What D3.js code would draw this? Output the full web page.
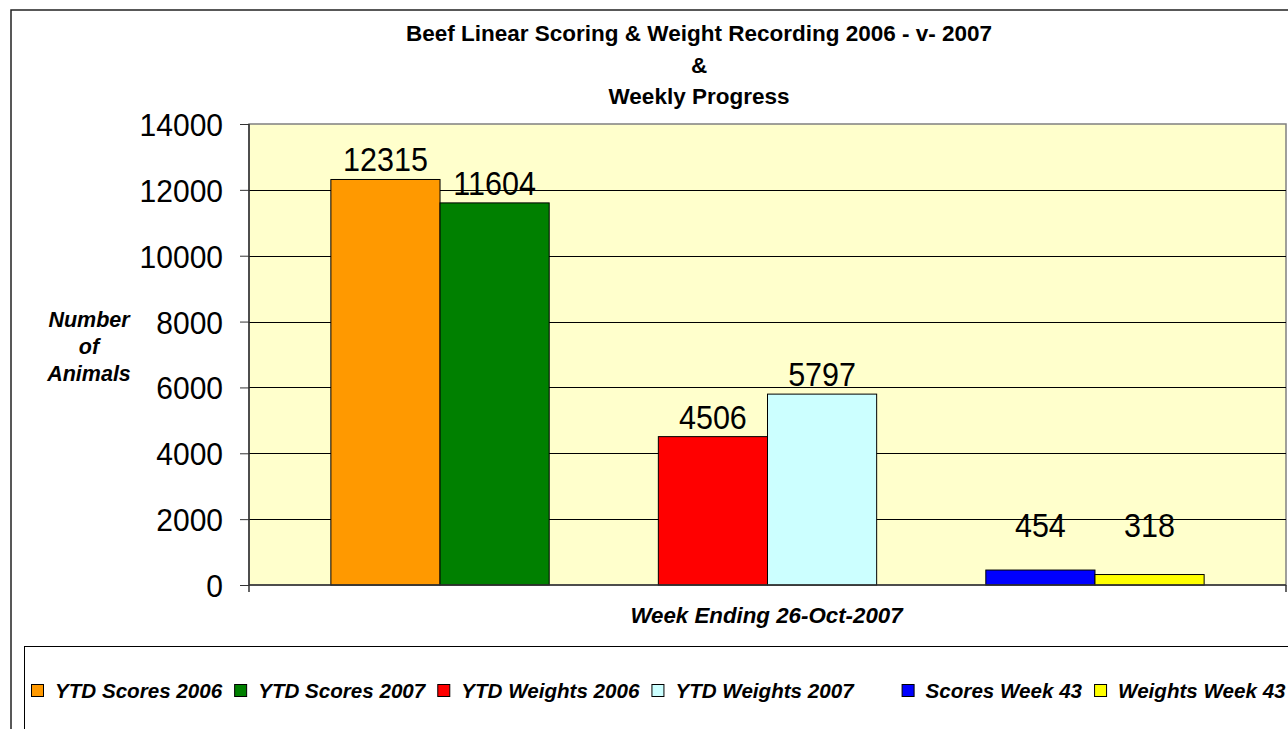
<!DOCTYPE html>
<html>
<head>
<meta charset="utf-8">
<script src="https://cdn.jsdelivr.net/npm/d3@7"></script>
<style>
  html, body { margin: 0; padding: 0; background: #fff; }
  svg { display: block; }
  text { font-family: "Liberation Sans", Arial, sans-serif; fill: #000; }
</style>
</head>
<body>
<svg id="chart" width="1288" height="729"></svg>
<script>
// ---- data ----
const titleLines = ["Beef Linear Scoring & Weight Recording 2006 - v- 2007", "&", "Weekly Progress"];
const yTitleLines = ["Number", "of", "Animals"];
const categories = ["Week Ending 26-Oct-2007"];
// one category, eight series slots (two empty spacer series)
const seriesNames = ["YTD Scores 2006", "YTD Scores 2007", "", "YTD Weights 2006", "YTD Weights 2007", "", "Scores Week 43", "Weights Week 43"];
const seriesValues = [12315, 11604, null, 4506, 5797, null, 454, 318];
const seriesColors = ["#FF9900", "#008000", "none", "#FF0000", "#CCFFFF", "none", "#0000FF", "#FFFF00"];
const yTicks = [0, 2000, 4000, 6000, 8000, 10000, 12000, 14000];
const legendNames = ["YTD Scores 2006", "YTD Scores 2007", "YTD Weights 2006", "YTD Weights 2007", "", "Scores Week 43", "Weights Week 43"];

// ---- layout ----
const W = 1288, H = 729;
const plot = { left: 249, right: 1286, top: 124, bottom: 585 };
const svg = d3.select("#chart");

// numbers are drawn slightly tall-and-narrow, like the reference
function condense(sel, sizeTall, sizeWide) {
  sel.attr("font-size", sizeTall).each(function () {
    const len = this.getComputedTextLength();
    d3.select(this).attr("textLength", len * sizeWide / sizeTall).attr("lengthAdjust", "spacingAndGlyphs");
  });
}

svg.append("rect").attr("width", W).attr("height", H).attr("fill", "#fff");
// chart area border (extends beyond the visible window)
svg.append("rect").attr("x", 11).attr("y", 10).attr("width", 1400).attr("height", 900)
  .attr("fill", "none").attr("stroke", "#222").attr("stroke-width", 1.5);

const y = d3.scaleLinear().domain([0, 14000]).range([plot.bottom, plot.top]);
const x0 = d3.scaleBand().domain(categories).range([plot.left, plot.right]).padding(0);
const x1 = d3.scaleBand().domain(d3.range(seriesNames.length)).range([0, x0.bandwidth()])
  .paddingInner(0).paddingOuter(0.75);

// plot area
svg.append("rect").attr("x", plot.left).attr("y", plot.top)
  .attr("width", plot.right - plot.left).attr("height", plot.bottom - plot.top)
  .attr("fill", "#FFFFCC").attr("stroke", "#808080").attr("stroke-width", 1.5);

// gridlines
svg.append("g").selectAll("line")
  .data(yTicks.filter(t => t > 0 && t < 14000))
  .join("line")
  .attr("x1", plot.left).attr("x2", plot.right)
  .attr("y1", d => Math.round(y(d)) + 0.5).attr("y2", d => Math.round(y(d)) + 0.5)
  .attr("stroke", "#000").attr("stroke-width", 1);

// bars
const bars = seriesValues.map((v, i) => ({ i, v, name: seriesNames[i], color: seriesColors[i], cat: categories[0] }))
  .filter(d => d.v != null);
svg.append("g").selectAll("rect")
  .data(bars)
  .join("rect")
  .attr("x", d => x0(d.cat) + x1(d.i))
  .attr("y", d => y(d.v))
  .attr("width", x1.bandwidth())
  .attr("height", d => y(0) - y(d.v))
  .attr("fill", d => d.color)
  .attr("stroke", "#000").attr("stroke-width", 1);

// y axis
const yAxis = d3.axisLeft(y).tickValues(yTicks).tickFormat(d3.format("d"))
  .tickSize(9).tickSizeOuter(0).tickPadding(17);
const ga = svg.append("g").attr("transform", `translate(${plot.left},0)`).call(yAxis);
ga.select(".domain").remove();
ga.selectAll(".tick line").attr("stroke", "#333");
ga.selectAll(".tick text").attr("font-family", "Liberation Sans, Arial, sans-serif").attr("fill", "#000")
  .attr("dy", "0.36em");
condense(ga.selectAll(".tick text"), 32, 30);
// axis lines
svg.append("line").attr("x1", plot.left).attr("x2", plot.left).attr("y1", plot.top).attr("y2", plot.bottom + 7)
  .attr("stroke", "#333").attr("stroke-width", 1.5);
svg.append("line").attr("x1", plot.left).attr("x2", plot.right).attr("y1", plot.bottom).attr("y2", plot.bottom)
  .attr("stroke", "#333").attr("stroke-width", 1.5);
svg.append("line").attr("x1", plot.right).attr("x2", plot.right).attr("y1", plot.bottom).attr("y2", plot.bottom + 7)
  .attr("stroke", "#333").attr("stroke-width", 1.5);

// data labels
const labels = svg.append("g").selectAll("text")
  .data(bars)
  .join("text")
  .attr("x", d => x0(d.cat) + x1(d.i) + x1.bandwidth() / 2)
  .attr("y", d => Math.min(y(d.v) - 8, y(0) - 48))
  .attr("text-anchor", "middle")
  .text(d => d.v);
condense(labels, 32.5, 30.5);

// title
svg.append("g").selectAll("text")
  .data(titleLines)
  .join("text")
  .attr("x", 699)
  .attr("y", (d, i) => [41, 73, 104][i])
  .attr("text-anchor", "middle")
  .attr("font-size", 22.5).attr("font-weight", "bold")
  .text(d => d);

// y axis title
svg.append("g").selectAll("text")
  .data(yTitleLines)
  .join("text")
  .attr("x", 89)
  .attr("y", (d, i) => 327 + i * 27)
  .attr("text-anchor", "middle")
  .attr("font-size", 21.5).attr("font-weight", "bold").attr("font-style", "italic")
  .text(d => d);

// x axis title (category)
svg.append("text")
  .attr("x", x0(categories[0]) + x0.bandwidth() / 2 - 1)
  .attr("y", 623)
  .attr("text-anchor", "middle")
  .attr("font-size", 22.3).attr("font-weight", "bold").attr("font-style", "italic")
  .text(categories[0]);

// legend
svg.append("rect").attr("x", 24.5).attr("y", 646.5).attr("width", 1400).attr("height", 200)
  .attr("fill", "#fff").attr("stroke", "#000").attr("stroke-width", 1);
const lg = svg.append("g");
let lx = 31;
const colorByName = {};
seriesNames.forEach((n, i) => { if (n) colorByName[n] = seriesColors[i]; });
legendNames.forEach(name => {
  if (name) {
    lg.append("rect").attr("x", lx + 0.5).attr("y", 684.5).attr("width", 12).attr("height", 12)
      .attr("fill", colorByName[name]).attr("stroke", "#000").attr("stroke-width", 1);
  }
  const t = lg.append("text").attr("x", lx + 24).attr("y", 698)
    .attr("font-size", 20.6).attr("font-weight", "bold").attr("font-style", "italic")
    .text(name);
  const tw = name ? t.node().getComputedTextLength() : 0;
  lx = lx + 24 + tw + 12;
});
</script>
</body>
</html>
